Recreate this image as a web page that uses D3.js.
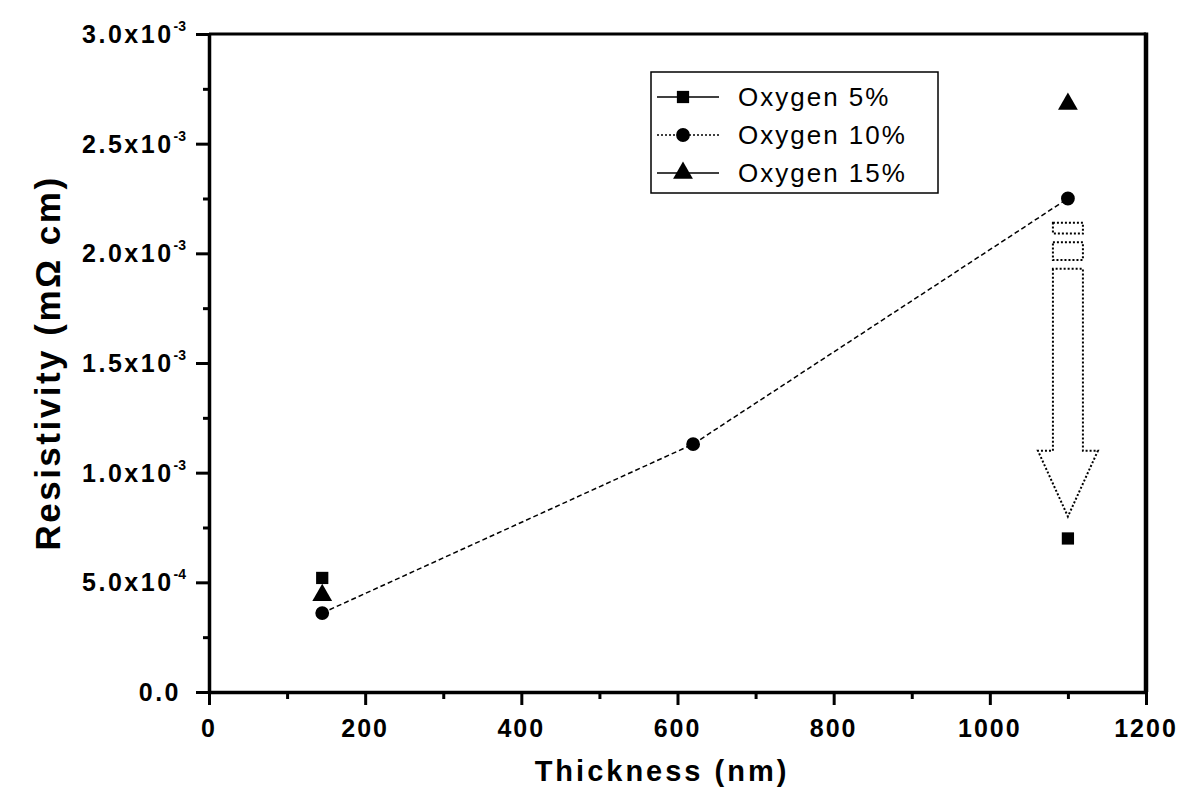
<!DOCTYPE html>
<html>
<head>
<meta charset="utf-8">
<script src="https://cdn.jsdelivr.net/npm/d3@7"></script>
<style>
  body { margin: 0; background: #fff; }
  svg text { font-family: "Liberation Sans", Arial, sans-serif; fill: #000; }
</style>
</head>
<body>
<svg id="chart" width="1186" height="806"></svg>
<script>
'use strict';

// data
const thickness5 = [145, 1100];
const rho5 = [5.2e-4, 7.0e-4];
const thickness10 = [145, 620, 1100];
const rho10 = [3.6e-4, 1.13e-3, 2.25e-3];
const thickness15 = [145, 1100];
const rho15 = [4.5e-4, 2.69e-3];

const seriesNames = ["Oxygen 5%", "Oxygen 10%", "Oxygen 15%"];
const xTicks = [0, 200, 400, 600, 800, 1000, 1200];
const yTicks = [0, 5e-4, 1e-3, 1.5e-3, 2e-3, 2.5e-3, 3e-3];
const yTickMant = ["0.0", "5.0x10", "1.0x10", "1.5x10", "2.0x10", "2.5x10", "3.0x10"];
const yTickExp = ["", "-4", "-3", "-3", "-3", "-3", "-3"];

// arrow annotation: from (x, yTop) down to tip
const arrowX = 1100;
const arrowBoxes = [[2.14e-3, 2.09e-3], [2.05e-3, 1.97e-3]];
const arrowShaft = [1.93e-3, 1.10e-3];
const arrowTip = 0.80e-3;

const svg = d3.select("#chart");
const margin = {left: 209, right: 40, top: 34, bottom: 114};
const W = 1186, H = 806;

const x = d3.scaleLinear().domain([0, 1200]).range([margin.left, W - margin.right]);
const y = d3.scaleLinear().domain([0, 3e-3]).range([H - margin.bottom, margin.top]);

// frame
svg.append("line").attr("x1", x(0)).attr("x2", x(1200)).attr("y1", y(3e-3)).attr("y2", y(3e-3))
	.attr("stroke", "#000").attr("stroke-width", 3);
svg.append("line").attr("x1", x(1200)).attr("x2", x(1200)).attr("y1", y(3e-3) - 1.5).attr("y2", y(0))
	.attr("stroke", "#000").attr("stroke-width", 4.5);

// x axis
const xAxis = svg.append("g").attr("transform", `translate(0,${y(0)})`)
	.call(d3.axisBottom(x).tickValues(d3.range(0, 1201, 100)).tickSize(0).tickFormat(""));
xAxis.select(".domain").attr("stroke-width", 3.5);
xAxis.selectAll(".tick line")
	.attr("y2", d => d % 200 === 0 ? 13 : 7)
	.attr("stroke-width", 3);
xTicks.forEach(t => {
	svg.append("text").attr("x", x(t)).attr("y", y(0) + 45)
		.attr("text-anchor", "middle").attr("font-size", 25).attr("font-weight", "bold")
		.attr("letter-spacing", 2).text(String(t));
});

// y axis
const yAxis = svg.append("g").attr("transform", `translate(${x(0)},0)`)
	.call(d3.axisLeft(y).tickValues(d3.range(0, 13).map(i => i * 2.5e-4)).tickSize(0).tickFormat(""));
yAxis.select(".domain").attr("stroke-width", 3.5);
yAxis.selectAll(".tick line")
	.attr("x2", (d, i) => i % 2 === 0 ? -13 : -6)
	.attr("stroke-width", 3);

yTicks.forEach((t, i) => {
	const tx = svg.append("text").attr("y", y(t) + 9)
		.attr("font-size", 25).attr("font-weight", "bold").attr("letter-spacing", 2.5);
	if (yTickExp[i]) {
		tx.attr("x", 186).attr("text-anchor", "end");
		tx.append("tspan").text(yTickMant[i]);
		tx.append("tspan").attr("dy", -12).attr("font-size", 14).attr("letter-spacing", 0).text(yTickExp[i]);
	} else {
		tx.attr("x", 181).attr("text-anchor", "end").text(yTickMant[i]);
	}
});

// axis titles
svg.append("text")
	.attr("transform", `translate(60,${(y(0) + y(3e-3)) / 2}) rotate(-90)`)
	.attr("text-anchor", "middle").attr("font-size", 35).attr("font-weight", "bold")
	.attr("letter-spacing", 2.5)
	.text("Resistivity (mΩ cm)");
svg.append("text")
	.attr("x", 662).attr("y", 781)
	.attr("text-anchor", "middle").attr("font-size", 29).attr("font-weight", "bold")
	.attr("letter-spacing", 3)
	.text("Thickness (nm)");

// series
const data10 = thickness10.map((t, i) => [t, rho10[i]]);
svg.append("path").datum(data10)
	.attr("fill", "none").attr("stroke", "#000").attr("stroke-width", 1.5)
	.attr("stroke-dasharray", "5,3")
	.attr("d", d3.line().x(d => x(d[0])).y(d => y(d[1])));

const sq = d3.symbol().type(d3.symbolSquare).size(150);
const ci = d3.symbol().type(d3.symbolCircle).size(150);
const tr = d3.symbol().type(d3.symbolTriangle).size(170);

svg.selectAll(".s5").data(thickness5.map((t, i) => [t, rho5[i]])).enter()
	.append("path").attr("class", "s5").attr("d", sq)
	.attr("transform", d => `translate(${x(d[0])},${y(d[1])})`);
svg.selectAll(".s15").data(thickness15.map((t, i) => [t, rho15[i]])).enter()
	.append("path").attr("class", "s15").attr("d", tr)
	.attr("transform", d => `translate(${x(d[0])},${y(d[1]) + 2})`);
svg.selectAll(".s10").data(data10).enter()
	.append("path").attr("class", "s10").attr("d", ci)
	.attr("transform", d => `translate(${x(d[0])},${y(d[1])})`);

// dotted arrow
const ax = x(arrowX);
const arrow = svg.append("g").attr("fill", "none").attr("stroke", "#000")
	.attr("stroke-width", 2).attr("stroke-dasharray", "2,2");
arrowBoxes.forEach(b => {
	arrow.append("rect").attr("x", ax - 15).attr("width", 30)
		.attr("y", y(b[0])).attr("height", y(b[1]) - y(b[0]));
});
arrow.append("path").attr("d",
	`M${ax - 15},${y(arrowShaft[0])} L${ax - 15},${y(arrowShaft[1])} L${ax - 30},${y(arrowShaft[1])}` +
	` L${ax},${y(arrowTip)} L${ax + 30},${y(arrowShaft[1])} L${ax + 15},${y(arrowShaft[1])}` +
	` L${ax + 15},${y(arrowShaft[0])} Z`);

// legend
const lg = svg.append("g").attr("transform", "translate(651,72)");
lg.append("rect").attr("width", 287).attr("height", 121)
	.attr("fill", "#fff").attr("stroke", "#000").attr("stroke-width", 1.5);
const syms = [sq, ci, tr];
const dashes = [null, "2,2", null];
seriesNames.forEach((name, i) => {
	const ry = 25 + i * 38;
	lg.append("line").attr("x1", 6).attr("x2", 68).attr("y1", ry).attr("y2", ry)
		.attr("stroke", "#000").attr("stroke-width", 1.5)
		.attr("stroke-dasharray", dashes[i]);
	lg.append("path").attr("d", syms[i]).attr("transform", `translate(32,${ry})`);
	lg.append("text").attr("x", 87).attr("y", ry + 9)
		.attr("font-size", 26).attr("letter-spacing", 2).text(name);
});
</script>
</body>
</html>
